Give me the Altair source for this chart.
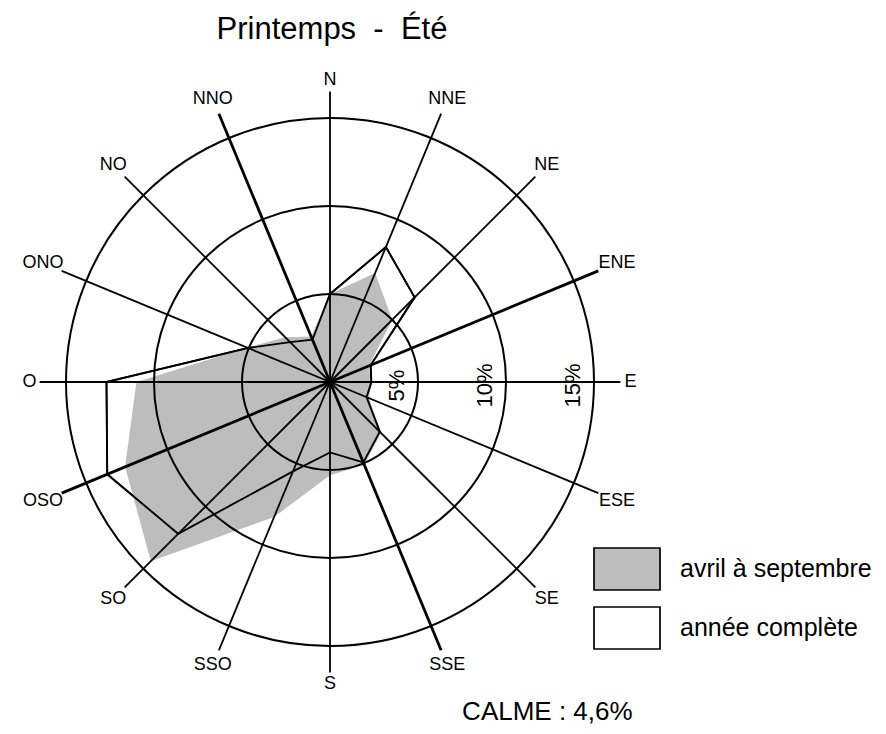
import math
import altair as alt
import pandas as pd

# ---------------- data ----------------
title_text = "Printemps\u00a0\u00a0-\u00a0\u00a0Été"
directions = ["N", "NNE", "NE", "ENE", "E", "ESE", "SE", "SSE",
              "S", "SSO", "SO", "OSO", "O", "ONO", "NO", "NNO"]
avril_septembre = [5.0, 6.7, 5.0, 2.4, 2.3, 2.4, 4.1, 5.1,
                   5.3, 8.3, 14.4, 12.6, 11.0, 5.1, 3.6, 2.8]
annee_complete = [5.0, 8.3, 6.8, 2.5, 2.35, 2.25, 4.0, 4.95,
                  4.0, 5.5, 12.2, 13.7, 12.7, 5.05, 3.2, 2.6]
series_names = ["avril à septembre", "année complète"]
ring_values = [5, 10, 15]
ring_labels = ["5%", "10%", "15%"]
thick_axes = ["NNO", "SSE", "ENE", "OSO"]
calme_text = "CALME : 4,6%"

# ---------------- layout ----------------
FONT = "Liberation Sans"
SHADE = "#bdbdbd"
K = 17.6            # pixels per percent
W, H = 870, 658     # plot area
CX, CY = 322, 314   # centre of the rose inside the plot area
LINE_R = 16.5

xs = alt.Scale(domain=[-CX / K, (W - CX) / K], nice=False, zero=False)
ys = alt.Scale(domain=[-(H - CY) / K, CY / K], nice=False, zero=False)
rs = alt.Scale(type="linear", domain=[0, 20], range=[0, 20 * K], zero=True)

idx = list(range(len(directions)))
dir_df = pd.DataFrame({"dir": directions, "idx": idx})
poly_df = pd.concat([
    pd.DataFrame({"dir": directions, "idx": idx, "pct": avril_septembre, "series": series_names[0]}),
    pd.DataFrame({"dir": directions, "idx": idx, "pct": annee_complete, "series": series_names[1]}),
], ignore_index=True)
ring_df = pd.DataFrame({"r": ring_values, "label": ring_labels})
calme_df = pd.DataFrame({"t": [calme_text]})

poly_base = alt.Chart(poly_df).transform_calculate(
    px="datum.pct*sin(datum.idx*PI/8)",
    py="datum.pct*cos(datum.idx*PI/8)",
)
pos = dict(
    x=alt.X("px:Q", scale=xs, axis=None),
    y=alt.Y("py:Q", scale=ys, axis=None),
    order=alt.Order("idx:Q"),
)

legend_layer = poly_base.transform_filter(
    alt.datum.series == series_names[1]
).mark_line(interpolate="linear-closed", stroke="black", strokeWidth=1.7).encode(
    fill=alt.Fill(
        "series:N",
        scale=alt.Scale(domain=series_names, range=[SHADE, "white"]),
        legend=alt.Legend(
            title=None, orient="none", legendX=585, legendY=467, direction="vertical",
            symbolType="M-1,-0.636L1,-0.636L1,0.636L-1,0.636Z", symbolSize=4356,
            symbolStrokeColor="black", symbolStrokeWidth=1.7,
            labelFont=FONT, labelFontSize=25, labelColor="black", labelOffset=19,
            labelLimit=400, rowPadding=-6, padding=0,
        ),
    ),
    **pos,
)

shaded = poly_base.transform_filter(
    alt.datum.series == series_names[0]
).mark_line(interpolate="linear-closed", fill=SHADE, strokeOpacity=0).encode(**pos)

outline = poly_base.transform_filter(
    alt.datum.series == series_names[1]
).mark_line(interpolate="linear-closed", stroke="black", strokeWidth=1.9).encode(**pos)

rings = alt.Chart(ring_df).transform_calculate(cx="0", cy="0").mark_arc(
    theta=0, theta2=2 * math.pi, fill="transparent", stroke="black", strokeWidth=2
).encode(
    x=alt.X("cx:Q", scale=xs, axis=None),
    y=alt.Y("cy:Q", scale=ys, axis=None),
    radius=alt.Radius("r:Q", scale=rs, stack=None),
)

spokes = alt.Chart(dir_df).transform_calculate(
    x0="0", y0="0",
    x1=f"{LINE_R}*sin(datum.idx*PI/8)",
    y1=f"{LINE_R}*cos(datum.idx*PI/8)",
).mark_rule(stroke="black").encode(
    x=alt.X("x0:Q", scale=xs, axis=None),
    y=alt.Y("y0:Q", scale=ys, axis=None),
    x2="x1:Q",
    y2="y1:Q",
    strokeWidth=alt.condition(
        alt.FieldOneOfPredicate(field="dir", oneOf=thick_axes),
        alt.value(2.8), alt.value(1.8)),
)

# label distance: clear the spoke end by the half-extent of the label box
dir_labels = alt.Chart(dir_df).transform_calculate(
    th="datum.idx*PI/8",
).transform_calculate(
    lr=f"(296 + 4.5*length(datum.dir)*abs(sin(datum.th)) + 6*abs(cos(datum.th)))/{K}",
).transform_calculate(
    lx="datum.lr*sin(datum.th)",
    ly="datum.lr*cos(datum.th)",
).mark_text(font=FONT, fontSize=18, color="black", align="center", baseline="middle").encode(
    x=alt.X("lx:Q", scale=xs, axis=None),
    y=alt.Y("ly:Q", scale=ys, axis=None),
    text="dir:N",
)

ring_text = alt.Chart(ring_df).transform_calculate(
    lx="datum.r - 1.2", ly="-0.2"
).mark_text(font=FONT, fontSize=22, color="black", angle=270,
            align="center", baseline="middle").encode(
    x=alt.X("lx:Q", scale=xs, axis=None),
    y=alt.Y("ly:Q", scale=ys, axis=None),
    text="label:N",
)

calme = alt.Chart(calme_df).transform_calculate(
    cx="12.35", cy="-19.2"
).mark_text(font=FONT, fontSize=26, color="black", align="center", baseline="alphabetic").encode(
    x=alt.X("cx:Q", scale=xs, axis=None),
    y=alt.Y("cy:Q", scale=ys, axis=None),
    text="t:N",
)

chart = alt.layer(
    legend_layer, shaded, rings, spokes, outline, dir_labels, ring_text, calme
).properties(
    width=W,
    height=H,
    autosize=alt.AutoSizeParams(type="none"),
    padding={"left": 0, "top": 60, "right": 0, "bottom": 0},
    title=alt.Title(title_text, font=FONT, fontSize=31, fontWeight="normal", color="black",
                    anchor="middle", frame="group", dx=-111, offset=-2, baseline="alphabetic"),
).configure_view(strokeWidth=0)

chart.save("out.html", embed_options={"renderer": "svg", "actions": False})
